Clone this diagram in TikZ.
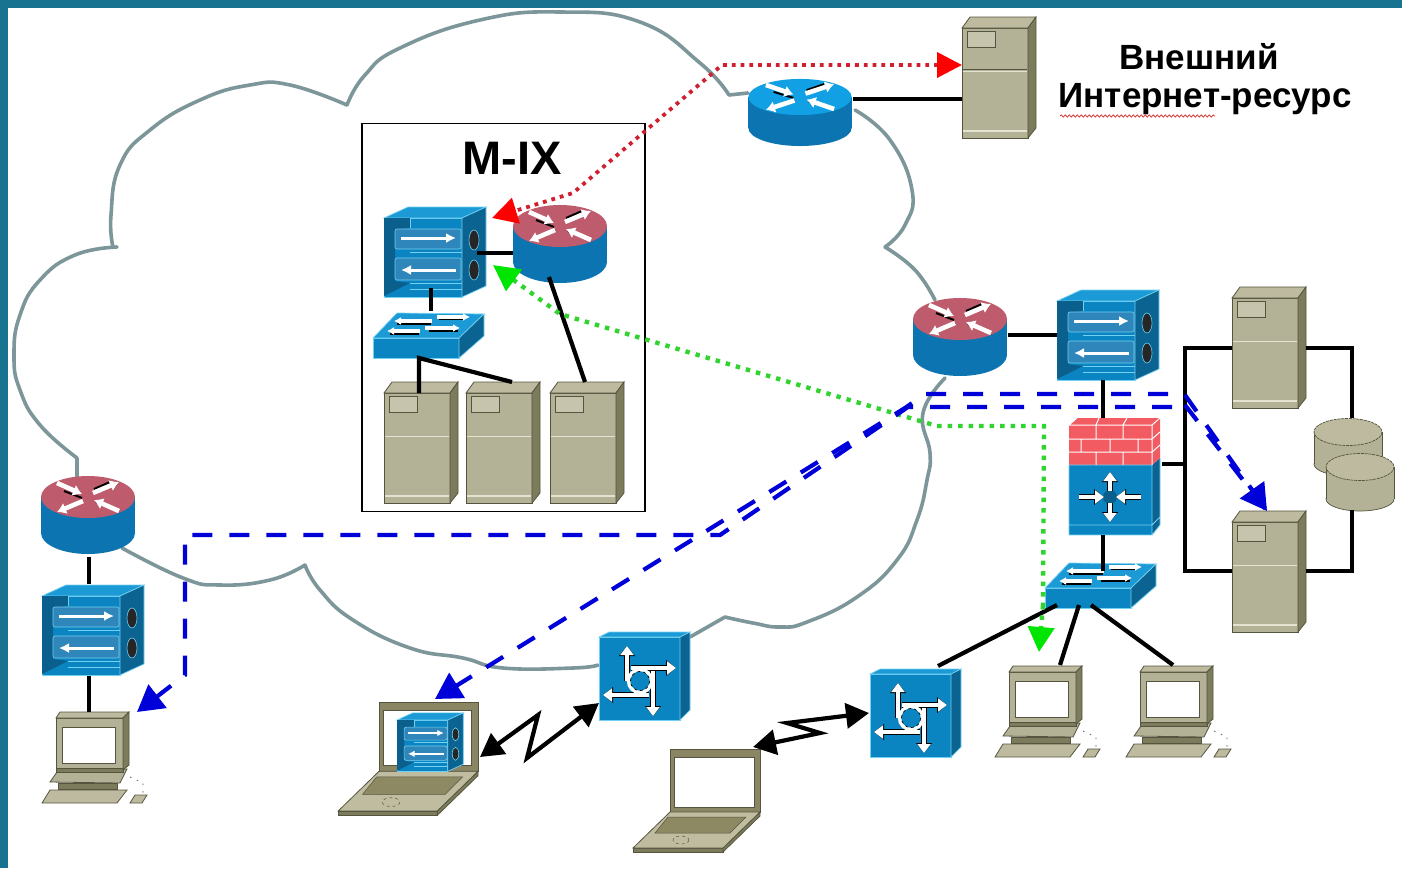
\documentclass[tikz,border=0pt]{standalone}
\usepackage{fontspec}
\setmainfont{Liberation Sans}
\usetikzlibrary{arrows.meta,decorations.pathmorphing}
\definecolor{bgteal}{HTML}{17738F}
\definecolor{cloudc}{HTML}{7D9699}
\definecolor{srvfront}{HTML}{B3B196}
\definecolor{srvtop}{HTML}{BDBA9F}
\definecolor{srvside}{HTML}{7C7B5C}
\definecolor{srvedge}{HTML}{55553F}
\definecolor{srvlight}{HTML}{E4E3D2}
\definecolor{blfront}{HTML}{0B85C2}
\definecolor{bltop}{HTML}{1C9AD6}
\definecolor{blside}{HTML}{0B6391}
\definecolor{bldark}{HTML}{0A5F8C}
\definecolor{blslot}{HTML}{2F86BB}
\definecolor{blline}{HTML}{72D0F2}
\definecolor{rtred}{HTML}{BE5B6C}
\definecolor{rtbody}{HTML}{0B74B1}
\definecolor{rtblue}{HTML}{12A0E4}
\definecolor{brick}{HTML}{F25B62}
\definecolor{lapframe}{HTML}{8A8664}
\definecolor{lapkey}{HTML}{8C8963}
\definecolor{lapbase}{HTML}{BFBCA0}
\definecolor{bluedash}{HTML}{0000D8}
\definecolor{greendot}{HTML}{2FD42F}
\definecolor{reddot}{HTML}{D0202F}
\newcommand{\icarrow}[2]{%
  \draw[black,line width=6.2pt,-{Triangle[length=10pt,width=15.5pt]}] #1 -- #2;
  \draw[white,line width=4.6pt,-{Triangle[length=9pt,width=13pt]}] #1 -- #2;}
\tikzset{
  cloudline/.style={draw=cloudc,line width=3.6pt,line join=round,line cap=round},
  wire/.style={draw=black,line width=4.2pt},
  bluepath/.style={draw=bluedash,line width=4.2pt,dash pattern=on 20pt off 17pt},
  greenpath/.style={draw=greendot,line width=4.4pt,dash pattern=on 4.4pt off 6.1pt},
  redpath/.style={draw=reddot,line width=3.8pt,dash pattern=on 3.8pt off 5pt},
  bluehead/.style={-{Triangle[length=26pt,width=29pt,color=bluedash]}},
  greenhead/.style={-{Triangle[length=25pt,width=26pt,color=green!90!black]}},
  redboth/.style={{Triangle[length=25pt,width=25pt,color=red]}-{Triangle[length=25pt,width=26pt,color=red]}},
  zigzag/.style={draw=black,line width=4.2pt,line join=miter,
    {Triangle[length=23pt,width=25pt]}-{Triangle[length=23pt,width=25pt]}},
  labeltext/.style={font=\bfseries\fontsize{35}{35}\selectfont,inner sep=0pt,text=black},
  pics/server/.style={code={
    \filldraw[draw=srvedge,fill=srvfront,line width=.8pt] (0,0) rectangle (66,110);
    \filldraw[draw=srvedge,fill=srvtop,line width=.8pt] (0,0)--(8,-11)--(74,-11)--(66,0)--cycle;
    \filldraw[draw=srvedge,fill=srvside,line width=.8pt] (66,0)--(74,-11)--(74,100)--(66,110)--cycle;
    \filldraw[draw=srvedge,fill=srvtop!85!white,line width=.7pt] (5,3) rectangle (33,19);
    \draw[srvlight,line width=1pt] (.6,43)--(65.4,43);
    \draw[srvlight,line width=1.2pt] (.6,103)--(65.4,103);
  }},
  pics/router/.style={code={
    \fill[rtbody] (-47,0) rectangle (47,36);
    \fill[rtbody] (0,36) ellipse [x radius=47,y radius=21];
    \fill[#1] (0,0) ellipse [x radius=47,y radius=21];
    \draw[black,line width=2pt] (-24,-6)--(-6,1) (22,-15)--(6,-8) (-22,10)--(-5,4) (24,11)--(8,5);
    \draw[white,line width=4.6pt,-{Latex[length=9pt,width=12pt]}] (-31,-14)--(-6,-3);
    \draw[white,line width=4.6pt,-{Latex[length=9pt,width=12pt]}] (31,14)--(6,3);
    \draw[white,line width=4.6pt,-{Latex[length=9pt,width=12pt]}] (5,-4)--(31,-15);
    \draw[white,line width=4.6pt,-{Latex[length=9pt,width=12pt]}] (-5,4)--(-31,15);
  }},
  pics/mlswitch/.style={code={
    \filldraw[draw=blline,fill=blfront,line width=.7pt] (0,0) rectangle (78,79);
    \filldraw[draw=blline,fill=bltop,line width=.7pt] (0,0)--(24,-11)--(102,-11)--(78,0)--cycle;
    \filldraw[draw=blline,fill=blside,line width=.7pt] (78,0)--(102,-11)--(102,68)--(78,79)--cycle;
    \fill[bldark] (0,0)--(26,0)--(26,10)--(11,12)--(11,63)--(26,65)--(0,78)--cycle;
    \draw[blline,line width=.6pt] (26,0)--(26,10) (26,34)--(78,34) (26,65)--(78,65) (26,71)--(78,71);
    \filldraw[draw=blline,fill=blslot,line width=.6pt,rounded corners=2pt] (11,11) rectangle (77,31);
    \filldraw[draw=blline,fill=blslot,line width=.6pt,rounded corners=2pt] (11,40) rectangle (77,62);
    \draw[white,line width=#1*3pt,-{Latex[scale=#1,length=10pt,width=10pt]}] (17,20)--(72,20);
    \draw[white,line width=#1*3pt,-{Latex[scale=#1,length=10pt,width=10pt]}] (72,52)--(17,52);
    \filldraw[draw=blline,fill=black!85,line width=.6pt] (90,22) ellipse [x radius=5,y radius=10];
    \filldraw[draw=blline,fill=black!85,line width=.6pt] (90,52) ellipse [x radius=5,y radius=10];
  }},
  pics/wgswitch/.style={code={
    \filldraw[draw=blline,fill=blfront,line width=.7pt] (0,0) rectangle (86,20);
    \filldraw[draw=blline,fill=bltop,line width=.7pt] (0,0)--(24,-25)--(111,-24)--(86,0)--cycle;
    \filldraw[draw=blline,fill=blside,line width=.7pt] (86,0)--(111,-24)--(111,-2)--(86,20)--cycle;
    \draw[black,line width=1.6pt] (24,-14)--(58,-14) (17,-4)--(46,-4) (56,-7)--(85,-7) (66,-19)--(92,-19);
    \draw[white,line width=3.4pt,-{Latex[length=7pt,width=8pt]}] (59,-17)--(21,-17);
    \draw[white,line width=3.4pt,-{Latex[length=7pt,width=8pt]}] (64,-21)--(97,-21);
    \draw[white,line width=3.4pt,-{Latex[length=7pt,width=8pt]}] (47,-7)--(14,-7);
    \draw[white,line width=3.4pt,-{Latex[length=7pt,width=8pt]}] (52,-10)--(87,-10);
  }},
  pics/firewall/.style={code={
    \fill[blfront] (0,40) rectangle (83,110);
    \fill[blside] (83,40)--(91,33)--(91,100)--(83,110)--cycle;
    \fill[brick] (0,0)--(8,-7)--(91,-7)--(91,33)--(83,40)--(0,40)--cycle;
    \draw[white,line width=1pt] (0,14)--(83,14) (0,27)--(83,27) (0,0)--(83,0)--(91,-7) (83,0)--(83,40)
      (27,0)--(27,14) (54,0)--(54,14) (12,14)--(12,27) (41,14)--(41,27) (69,14)--(69,27)
      (27,27)--(27,40) (54,27)--(54,40) (83,14)--(91,7) (83,27)--(91,20)
      (8,-7)--(0,0) (30,-7)--(27,0) (58,-7)--(54,0);
    \draw[blline,line width=.8pt] (0,100)--(83,100)--(91,92) (0,40) rectangle (83,110) (83,110)--(91,100)--(91,33);
    \fill[bldark] (41,72) circle [radius=7];
    \icarrow{(41,66)}{(41,47)}
    \icarrow{(41,78)}{(41,97)}
    \icarrow{(10,72)}{(35,72)}
    \icarrow{(72,72)}{(47,72)}
  }},
  pics/access/.style={code={
    \filldraw[draw=blline,fill=blfront,line width=.7pt] (0,0) rectangle (81,83);
    \filldraw[draw=blline,fill=bltop,line width=.7pt] (0,0)--(10,-5)--(91,-5)--(81,0)--cycle;
    \filldraw[draw=blline,fill=blside,line width=.7pt] (81,0)--(91,-5)--(91,73)--(81,83)--cycle;
    \icarrow{(28,44)}{(28,9)}
    \icarrow{(32,31)}{(77,31)}
    \icarrow{(50,58)}{(4,58)}
    \icarrow{(54,34)}{(54,79)}
    \filldraw[draw=white,fill=blfront,line width=3.4pt] (41,44) circle [radius=11.5];
    \draw[black,line width=.7pt,dashed] (41,44) circle [radius=9.6];
  }},
  pics/pc/.style={code={
    \filldraw[draw=srvedge,fill=srvfront,line width=.8pt] (-6,64)--(1,54)--(71,51)--(64,65)--cycle;
    \filldraw[draw=srvedge,fill=srvside,line width=.8pt] (2,65) rectangle (61,71);
    \filldraw[draw=srvedge,fill=srvtop,line width=.8pt] (-14,85)--(-6,72)--(71,72)--(61,85)--cycle;
    \filldraw[draw=srvedge,fill=srvside,line width=.8pt] (0,50) rectangle (67,54);
    \filldraw[draw=srvedge,fill=srvfront,line width=.8pt] (0,0) rectangle (67,50);
    \filldraw[draw=srvedge,fill=srvtop,line width=.8pt] (0,0)--(4,-6)--(73,-6)--(67,0)--cycle;
    \filldraw[draw=srvedge,fill=srvside,line width=.8pt] (67,0)--(73,-6)--(73,47)--(67,52)--cycle;
    \filldraw[draw=srvedge,fill=white,line width=1pt] (6,9) rectangle (59,45);
    \filldraw[draw=srvedge,fill=srvtop,line width=.8pt] (74,85)--(79,77)--(91,77)--(86,85)--cycle;
    \draw[srvedge,line width=.7pt,dash pattern=on 1.5pt off 6pt] (74,59)--(87,65)--(87,76);
  }},
  pics/laptop/.style={code={
    \filldraw[draw=srvedge,fill=lapframe,line width=.8pt] (0,0) rectangle (90,63);
    \filldraw[draw=srvedge,fill=white,line width=.8pt] (4,8) rectangle (84,58);
    \filldraw[draw=srvedge,fill=srvside,line width=.8pt] (-37,99)--(53,99)--(53,103)--(-37,103)--cycle;
    \filldraw[draw=srvedge,fill=srvside,line width=.8pt] (53,99)--(90,63)--(90,67)--(53,103)--cycle;
    \filldraw[draw=srvedge,fill=lapbase,line width=.8pt] (0,63)--(90,63)--(53,99)--(-37,99)--cycle;
    \filldraw[draw=srvedge,fill=lapkey,line width=.5pt] (-2,68)--(76,68)--(60,84)--(-15,84)--cycle;
    \draw[srvedge,line width=.5pt,dashed] (11,91) ellipse [x radius=8,y radius=4];
  }},
  pics/disk/.style={code={
    \fill[srvfront] (-34,0) rectangle (34,32);
    \filldraw[draw=srvedge,fill=srvfront,line width=.7pt] (0,32) ellipse [x radius=34,y radius=12];
    \fill[srvfront] (-33.6,0) rectangle (33.6,32);
    \draw[srvedge,line width=.7pt] (-34,0)--(-34,32) (34,0)--(34,32);
    \filldraw[draw=srvedge,fill=srvtop,line width=.7pt,dash pattern=on 3pt off .8pt] (0,0) ellipse [x radius=34,y radius=13.5];
  }},
}
\begin{document}
\begin{tikzpicture}[x=1pt,y=-1pt]
\useasboundingbox (0,0) rectangle (1402,868);
\fill[white] (0,0) rectangle (1402,868);
\fill[bgteal] (0,0) rectangle (1402,8);
\fill[bgteal] (0,0) rectangle (8,868);

% cloud
\draw[cloudline] (77,478)--(77,458) plot[smooth,tension=.8] coordinates {(77,458)(40,425)(20,390)(14,355)(20,315)(40,280)(75,255)(117,247)};
\draw[cloudline] plot[smooth,tension=.8] coordinates {(113,247)(111,215)(120,165)(150,130)(200,100)(250,85)(290,85)(347,105)};
\draw[cloudline] plot[smooth,tension=.8] coordinates {(347,105)(365,75)(400,48)(480,20)(560,12)(640,22)(700,63)(729,95)} -- (748,93);
\draw[cloudline] plot[smooth,tension=.8] coordinates {(855,110)(890,140)(912,190)(905,225)(885,247)};
\draw[cloudline] plot[smooth,tension=.8] coordinates {(885,247)(915,270)(935,300)};
\draw[cloudline] plot[smooth,tension=.8] coordinates {(945,378)(923,413)(930,453)(927,480)(917,520)(897,560)(857,597)(807,622)(780,627)(753,623)(725,617)} -- (690,637);
\draw[cloudline] plot[smooth,tension=.8] coordinates {(598,665)(573,668)(503,668)(463,658)(410,648)(353,620)(320,590)(305,565)};
\draw[cloudline] plot[smooth,tension=.8] coordinates {(305,565)(270,580)(220,585)(183,578)(122,548)};

% M-IX box
\node[draw=black,line width=1.4pt,fill=white,minimum width=283pt,minimum height=388pt,inner sep=0pt] (mixbox) at (503.5,317.5) {};
\node[font=\bfseries\fontsize{47}{47}\selectfont,inner sep=0pt] (mixlabel) at (512,158) {M-IX};

% devices
\pic at (384,393) {server};
\pic at (466,393) {server};
\pic at (550,393) {server};
\pic at (962,28) {server};
\draw[srvedge,line width=1pt] (962.6,69)--(1027.4,69);
\pic at (1232,298) {server};
\pic at (1232,522) {server};
\pic at (560,226) {router=rtred};
\pic at (960,319) {router=rtred};
\pic at (88,497) {router=rtred};
\pic[xscale=1.1,yscale=.86] at (800,97) {router=rtblue};
\pic at (384,218) {mlswitch=1};
\pic at (1057,301) {mlswitch=1};
\pic at (42,596) {mlswitch=1};
\pic at (373,338) {wgswitch};
\pic at (1045,588) {wgswitch};
\pic at (1069,425) {firewall};
\pic at (599,637) {access};
\pic at (870,674) {access};
\pic at (56,718) {pc};
\pic at (1009,672) {pc};
\pic at (1140,672) {pc};
\pic[scale=1.1] at (379,702) {laptop};
\pic at (670,749) {laptop};
\pic[scale=.65] at (397,720) {mlswitch=.65};
\pic at (1348,432) {disk};
\pic at (1360,467) {disk};

% text
\node[labeltext] (extA) at (1199,57) {Внешний};
\node[labeltext] (extB) at (1205,99) {Интернет-ресурс};
\coordinate (sqA) at (1060,116);
\coordinate (sqB) at (1215,116);
\draw[draw=red!70!gray,line width=.7pt,decorate,decoration={snake,amplitude=1.1pt,segment length=4pt}] (sqA)--(sqB);

% connection points
\coordinate (trE) at (853,99);
\coordinate (exW) at (962,99);
\coordinate (mxswE) at (477,253);
\coordinate (mxrW) at (513,253);
\coordinate (mxswS) at (431,288);
\coordinate (mxwgN) at (431,311);
\coordinate (mxwgS) at (419,358);
\coordinate (mxs1) at (419,393);
\coordinate (mxs2) at (512,382);
\coordinate (mxrS) at (549,277);
\coordinate (mxs3) at (585,382);
\coordinate (rrE) at (1008,335);
\coordinate (rswW) at (1057,335);
\coordinate (rswS) at (1103,380);
\coordinate (fwN) at (1103,418);
\coordinate (fwS) at (1103,535);
\coordinate (rwgN) at (1103,571);
\coordinate (fwE) at (1162,464);
\coordinate (busM) at (1185,464);
\coordinate (busT) at (1185,348);
\coordinate (busB) at (1185,571);
\coordinate (s1W) at (1232,348);
\coordinate (s2W) at (1232,571);
\coordinate (s1E) at (1306,348);
\coordinate (s2E) at (1306,571);
\coordinate (ringT) at (1352,348);
\coordinate (ringB) at (1352,571);
\coordinate (diskT) at (1352,418);
\coordinate (diskB) at (1352,510);
\coordinate (wgSa) at (1057,605);
\coordinate (asN) at (938,666);
\coordinate (wgSb) at (1079,605);
\coordinate (pcbN) at (1060,665);
\coordinate (wgSc) at (1091,605);
\coordinate (pccN) at (1173,665);
\coordinate (lrS) at (89,557);
\coordinate (lswN) at (89,584);
\coordinate (lswS) at (89,676);
\coordinate (lpcN) at (89,712);

% black wires
\draw[wire] (trE)--(exW);
\draw[wire] (mxswE)--(mxrW);
\draw[wire] (mxswS)--(mxwgN);
\draw[wire] (mxs1)--(mxwgS)--(mxs2);
\draw[wire] (mxrS)--(mxs3);
\draw[wire] (rrE)--(rswW);
\draw[wire] (rswS)--(fwN);
\draw[wire] (fwS)--(rwgN);
\draw[wire] (fwE)--(busM);
\draw[wire] (s1W)--(busT)--(busB)--(s2W);
\draw[wire] (s1E)--(ringT)--(diskT);
\draw[wire] (diskB)--(ringB)--(s2E);
\draw[wire] (wgSa)--(asN);
\draw[wire] (wgSb)--(pcbN);
\draw[wire] (wgSc)--(pccN);
\draw[wire] (lrS)--(lswN);
\draw[wire] (lswS)--(lpcN);

% zigzag links
\coordinate (lap1E) at (480,757);
\coordinate (z1a) at (538,715);
\coordinate (z1b) at (527,758);
\coordinate (as1W) at (599,703);
\draw[zigzag] (lap1E)--(z1a)--(z1b)--(as1W);
\coordinate (lap2E) at (753,747);
\coordinate (z2a) at (820,733);
\coordinate (z2b) at (787,723);
\coordinate (as2W) at (869,713);
\draw[zigzag] (lap2E)--(z2a)--(z2b)--(as2W);

% coloured routes
\coordinate (redE) at (962,65);
\coordinate (redA) at (722,65);
\coordinate (redB) at (573,193);
\coordinate (redW) at (492,218);
\draw[redpath,redboth] (redE)--(redA)--(redB)--(redW);

\coordinate (grA) at (493,265);
\coordinate (grB) at (560,314);
\coordinate (grC) at (937,426);
\coordinate (grD) at (1044,426);
\coordinate (grE) at (1043,605);
\coordinate (grF) at (1039,652);
\draw[greenpath,{Triangle[length=26pt,width=26pt,color=green!90!black]}-] (grA)--(grB)--(grC)--(grD)--(grE);
\draw[greenpath,greenhead] (grE)--(grF);

\coordinate (blA) at (1172,407);
\coordinate (blB) at (908,407);
\coordinate (blC) at (720,535);
\coordinate (blD) at (185,535);
\coordinate (blE) at (185,675);
\coordinate (blF) at (137,712);
\draw[bluepath,bluehead] (blA)--(blB)--(blC)--(blD)--(blE)--(blF);
\coordinate (blG) at (1168,394);
\coordinate (blH) at (925,394);
\coordinate (blI) at (905,408);
\coordinate (blJ) at (435,699);
\draw[bluepath,bluehead] (blG)--(blH)--(blI)--(blJ);
\coordinate (blK) at (1185,395);
\coordinate (blL) at (1185,405);
\coordinate (blM) at (1267,511);
\draw[bluepath,bluehead] (blK)--(blM);
\draw[bluepath] (blL)--(blM);
\end{tikzpicture}
\end{document}
